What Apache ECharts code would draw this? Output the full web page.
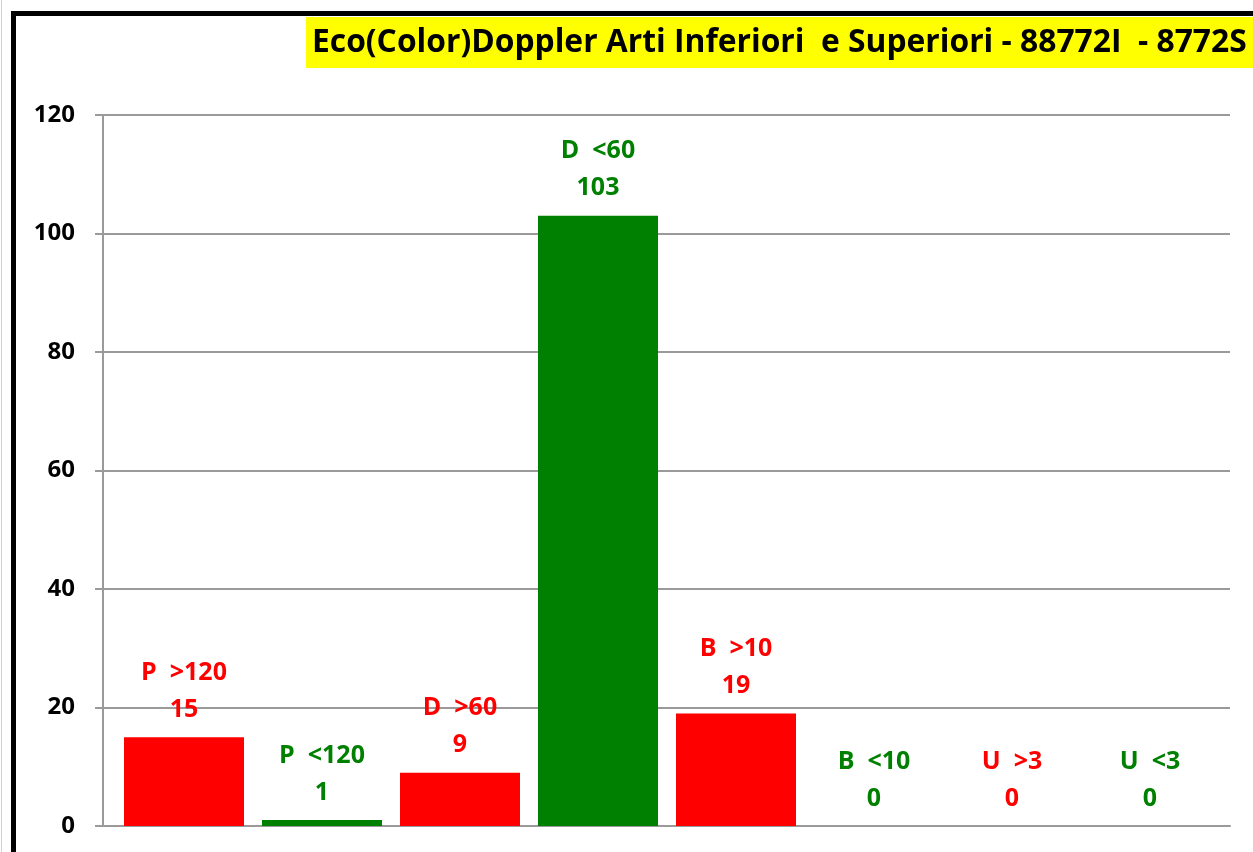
<!DOCTYPE html>
<html>
<head>
<meta charset="utf-8">
<script src="https://cdn.jsdelivr.net/npm/echarts@6/dist/echarts.min.js"></script>
<style>
html,body{margin:0;padding:0;background:#fff;}
#chart{width:1253px;height:852px;}
</style>
</head>
<body>
<div id="chart"></div>
<script>
// ---- data ----
const titleText = 'Eco(Color)Doppler Arti Inferiori  e Superiori - 88772I  - 8772S';
const categories = ['P  >120', 'P  <120', 'D  >60', 'D  <60', 'B  >10', 'B  <10', 'U  >3', 'U  <3'];
const values = [15, 1, 9, 103, 19, 0, 0, 0];
const status = ['high', 'low', 'high', 'low', 'high', 'low', 'high', 'low'];
const yMin = 0, yMax = 120, yStep = 20;

// ---- styles ----
const palette = { high: '#FF0000', low: '#008000' };
const FONT = '"Open Sans", "Noto Sans", sans-serif';

// fit title width
function fitFont(text, targetW, weight, family) {
  const c = document.createElement('canvas').getContext('2d');
  c.font = weight + ' 100px ' + family;
  const w = c.measureText(text).width;
  return Math.floor(100 * targetW / w * 10) / 10;
}
const titleSize = fitFont(titleText, 936, 'bold', FONT);

const chart = echarts.init(document.getElementById('chart'), null, { renderer: 'canvas' });

const dataItems = values.map((v, i) => ({
  value: v,
  name: categories[i],
  itemStyle: { color: palette[status[i]] },
  label: { color: palette[status[i]] }
}));

chart.setOption({
  animation: false,
  backgroundColor: '#ffffff',
  grid: [
    { left: 103, right: 23, top: 115, bottom: 26, containLabel: false },
    { left: 115, right: 34, top: 115, bottom: 26, containLabel: false }
  ],
  xAxis: [
    {
      gridIndex: 0, type: 'category', data: categories,
      axisLine: { show: true, lineStyle: { color: '#9a9a9a', width: 2 } },
      axisTick: { show: false }, axisLabel: { show: false }, splitLine: { show: false }
    },
    {
      gridIndex: 1, type: 'category', data: categories,
      axisLine: { show: false }, axisTick: { show: false }, axisLabel: { show: false }, splitLine: { show: false }
    }
  ],
  yAxis: [
    {
      gridIndex: 0, type: 'value', min: yMin, max: yMax, interval: yStep,
      axisLine: { show: true, lineStyle: { color: '#9a9a9a', width: 2 } },
      axisTick: { show: true, length: 8, lineStyle: { color: '#9a9a9a', width: 2 } },
      splitLine: { show: true, lineStyle: { color: '#9a9a9a', width: 2 } },
      axisLabel: { show: true, margin: 28, color: '#000', fontSize: 24, fontWeight: 'bold', fontFamily: FONT }
    },
    {
      gridIndex: 1, type: 'value', min: yMin, max: yMax, interval: yStep, show: false
    }
  ],
  series: [
    {
      type: 'bar', xAxisIndex: 1, yAxisIndex: 1,
      barWidth: 120,
      data: dataItems,
      label: {
        show: true, position: 'top', distance: 9,
        fontSize: 25, fontWeight: 'bold', fontFamily: FONT, lineHeight: 37,
        formatter: p => p.name + '\n' + p.value
      }
    }
  ],
  graphic: [
    { type: 'rect', left: 1, top: 0, shape: { width: 1, height: 852 }, style: { fill: '#d0d0d0' }, silent: true },
    { type: 'rect', shape: { x: 13.5, y: 13.5, width: 1400, height: 1000 }, style: { fill: null, stroke: '#000', lineWidth: 5 }, silent: true, z: 10 },
    { type: 'rect', shape: { x: 306, y: 17, width: 960, height: 51 }, style: { fill: '#FFFF00' }, silent: true, z: 5 },
    { type: 'text', x: 312, y: 43, style: { text: titleText, fill: '#000', font: 'bold ' + titleSize + 'px ' + FONT, textVerticalAlign: 'middle', verticalAlign: 'middle' }, silent: true, z: 6 }
  ]
});
</script>
</body>
</html>
